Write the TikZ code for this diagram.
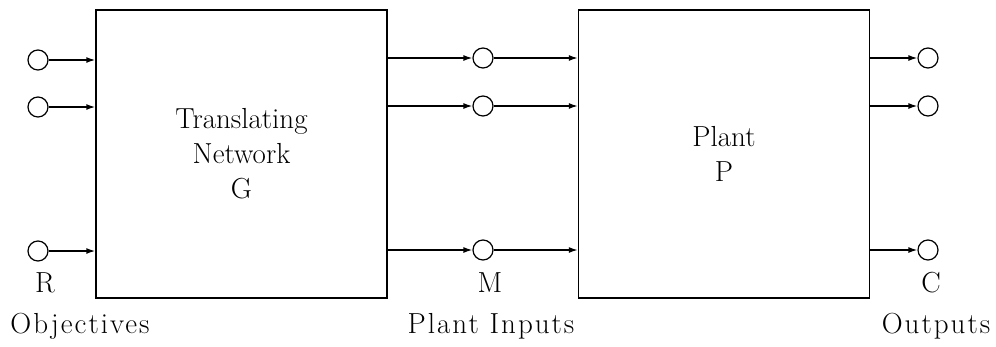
\documentclass[tikz,border=0pt]{standalone}
\usepackage{fontspec}
\newfontfamily\spacedlm[LetterSpace=7]{Latin Modern Roman}
\usetikzlibrary{arrows.meta}
\begin{document}
\begin{tikzpicture}[x=1pt,y=-1pt,
  line width=1.4pt,
  blk/.style={draw, minimum width=291pt, minimum height=288pt, inner sep=0pt, align=center, font=\fontsize{29}{35}\selectfont},
  port/.style={draw, circle, minimum size=20pt, inner sep=0pt, line width=1.2pt},
  lbl/.style={inner sep=0pt, font=\fontsize{29}{35}\selectfont},
  wlbl/.style={inner sep=0pt, font=\spacedlm\fontsize{29}{35}\selectfont},
  sig/.style={-{Latex[length=9pt,width=6pt]}}
]
\useasboundingbox (0,0) rectangle (996,346);
\node[blk] (G) at (241.5,154) {Translating\\Network\\G};
\node[blk] (P) at (724,154) {Plant\\P};
% ports
\node[port] (r1) at (38,60) {};
\node[port] (r2) at (38,107) {};
\node[port] (r3) at (38,251) {};
\node[port] (m1) at (483,58) {};
\node[port] (m2) at (483,106) {};
\node[port] (m3) at (483,250) {};
\node[port] (c1) at (928,58) {};
\node[port] (c2) at (928,106) {};
\node[port] (c3) at (928,250) {};
% connectors
\foreach \i in {1,2,3} {
  \draw[sig] (r\i.east) -- (r\i.east -| G.west);
  \draw[sig] (m\i.west -| G.east) -- (m\i.west);
  \draw[sig] (m\i.east) -- (m\i.east -| P.west);
  \draw[sig] (c\i.west -| P.east) -- (c\i.west);
}
% labels
\node[lbl, anchor=base] (R) at (45,292) {R};
\node[wlbl, anchor=base] (Obj) at (80,333) {Objectives};
\node[lbl, anchor=base] (M) at (490,292) {M};
\node[wlbl, anchor=base] (PI) at (491,333) {Plant Inputs};
\node[lbl, anchor=base] (C) at (931,292) {C};
\node[wlbl, anchor=base] (Out) at (936,333) {Outputs};
\end{tikzpicture}
\end{document}
